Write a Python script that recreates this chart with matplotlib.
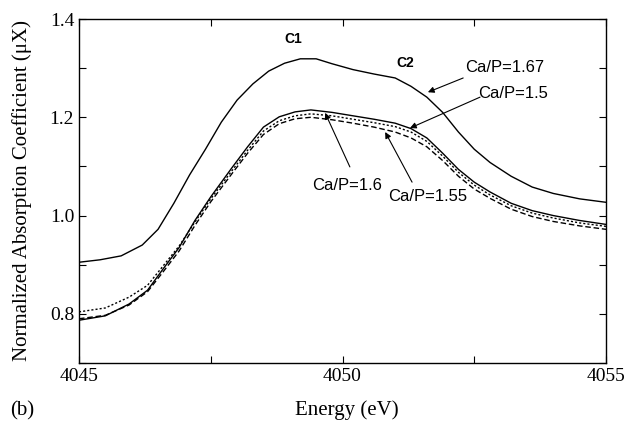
import matplotlib
matplotlib.use("Agg")
import matplotlib.pyplot as plt
from matplotlib.ticker import MultipleLocator

# Ca/P=1.67 (upper curve)
energy_167 = [4045.0, 4045.4, 4045.8, 4046.2, 4046.5, 4046.8, 4047.1, 4047.4, 4047.7,
              4048.0, 4048.3, 4048.6, 4048.9, 4049.2, 4049.5, 4049.8, 4050.2, 4050.6,
              4051.0, 4051.3, 4051.6, 4051.9, 4052.2, 4052.5, 4052.8, 4053.2, 4053.6,
              4054.0, 4054.5, 4055.0]
mu_167 = [0.905, 0.910, 0.918, 0.940, 0.972, 1.025, 1.083, 1.135, 1.190,
          1.235, 1.268, 1.294, 1.310, 1.319, 1.319, 1.309, 1.297, 1.288,
          1.280, 1.263, 1.241, 1.210, 1.170, 1.135, 1.108, 1.080, 1.058,
          1.045, 1.034, 1.027]

# lower group
energy = [4045.0, 4045.5, 4045.95, 4046.3, 4046.6, 4046.9, 4047.2, 4047.5, 4047.9,
          4048.2, 4048.5, 4048.8, 4049.1, 4049.4, 4049.8, 4050.2, 4050.6, 4051.0,
          4051.3, 4051.6, 4051.9, 4052.2, 4052.5, 4052.8, 4053.2, 4053.6, 4054.0,
          4054.5, 4055.0]
# Ca/P=1.5
mu_150 = [0.787, 0.796, 0.820, 0.848, 0.892, 0.935, 0.990, 1.038, 1.097,
          1.140, 1.180, 1.201, 1.211, 1.215, 1.210, 1.203, 1.196, 1.188,
          1.177, 1.158, 1.127, 1.094, 1.068, 1.048, 1.025, 1.010, 1.000,
          0.990, 0.982]
# Ca/P=1.6
mu_160 = [0.804, 0.812, 0.834, 0.858, 0.898, 0.938, 0.987, 1.034, 1.091,
          1.133, 1.172, 1.193, 1.203, 1.207, 1.203, 1.196, 1.189, 1.181,
          1.170, 1.151, 1.121, 1.088, 1.062, 1.042, 1.020, 1.005, 0.995,
          0.985, 0.978]
# Ca/P=1.55
mu_155 = [0.790, 0.797, 0.818, 0.845, 0.886, 0.928, 0.980, 1.028, 1.085,
          1.127, 1.165, 1.187, 1.197, 1.200, 1.195, 1.188, 1.180, 1.170,
          1.158, 1.140, 1.112, 1.080, 1.054, 1.035, 1.013, 0.998, 0.988,
          0.979, 0.972]

serif = "Liberation Serif"
sans = "Liberation Sans"

fig = plt.figure(figsize=(6.25, 4.33), dpi=100)
ax = fig.add_axes([0.1264, 0.1617, 0.8432, 0.7944])

ax.plot(energy_167, mu_167, color="black", lw=1.0, ls="-")
ax.plot(energy, mu_150, color="black", lw=1.0, ls="-")
ax.plot(energy, mu_160, color="black", lw=1.0, ls=(0, (1.5, 1.5)))
ax.plot(energy, mu_155, color="black", lw=1.0, ls=(0, (4, 2)))

ax.set_xlim(4045, 4055)
ax.set_ylim(0.7, 1.4)
ax.xaxis.set_major_locator(MultipleLocator(5))
ax.xaxis.set_minor_locator(MultipleLocator(2.5))
ax.yaxis.set_major_locator(MultipleLocator(0.2))
ax.yaxis.set_minor_locator(MultipleLocator(0.1))
ax.yaxis.set_major_formatter(plt.FuncFormatter(lambda v, p: f"{v:.1f}"))
ax.tick_params(which="both", direction="in", top=True, right=True, length=5, width=0.8)
for lbl in ax.get_xticklabels() + ax.get_yticklabels():
    lbl.set_fontfamily(serif)
    lbl.set_fontsize(14)
for s in ax.spines.values():
    s.set_linewidth(1.0)

ax.set_ylabel("Normalized Absorption Coefficient (\u03bcX)", fontfamily=serif, fontsize=15)
ax.yaxis.set_label_coords(-0.09, 0.5)
fig.text(0.555, 0.052, "Energy (eV)", fontfamily=serif, fontsize=15, ha="center", va="center")
fig.text(0.035, 0.052, "(b)", fontfamily=serif, fontsize=15, ha="center", va="center")

ax.text(4049.06, 1.359, "C1", fontfamily=sans, fontsize=10, fontweight="bold", ha="center", va="center")
ax.text(4051.19, 1.310, "C2", fontfamily=sans, fontsize=10, fontweight="bold", ha="center", va="center")

arrow = dict(arrowstyle="-|>", color="black", lw=0.8, mutation_scale=9, shrinkA=0, shrinkB=0)
ax.annotate("", xy=(4051.62, 1.251), xytext=(4052.29, 1.280), arrowprops=arrow)
ax.annotate("", xy=(4051.28, 1.178), xytext=(4052.61, 1.241), arrowprops=arrow)
ax.annotate("", xy=(4049.67, 1.209), xytext=(4050.14, 1.099), arrowprops=arrow)
ax.annotate("", xy=(4050.81, 1.170), xytext=(4051.32, 1.068), arrowprops=arrow)

ax.text(4053.08, 1.302, "Ca/P=1.67", fontfamily=sans, fontsize=12, ha="center", va="center")
ax.text(4053.24, 1.249, "Ca/P=1.5", fontfamily=sans, fontsize=12, ha="center", va="center")
ax.text(4050.09, 1.062, "Ca/P=1.6", fontfamily=sans, fontsize=12, ha="center", va="center")
ax.text(4051.62, 1.038, "Ca/P=1.55", fontfamily=sans, fontsize=12, ha="center", va="center")

fig.savefig("out.png", dpi=100)
